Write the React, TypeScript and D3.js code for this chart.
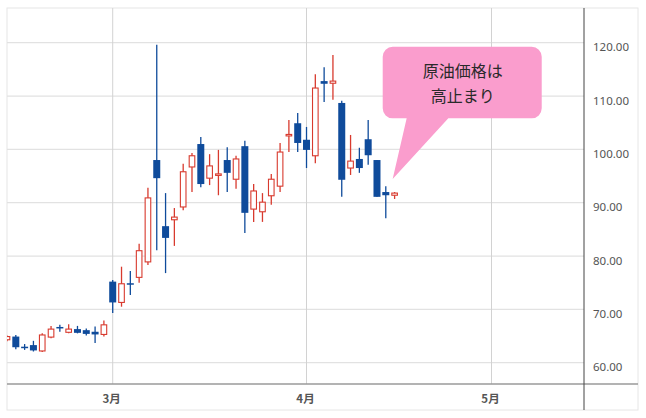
import React, { useEffect, useRef } from 'react';
import * as d3 from 'd3';

// daily candles, index -1 .. 43 (index 11 = first trading day of March)
const firstIndex = -1;
const opens = [
  64.3, 64.9, 63.0, 63.3, 62.2, 64.8, 66.7, 65.7, 66.3, 66.1, 65.8, 65.3,
  75.2, 71.3, 74.9, 76.0, 78.9, 98.0, 85.6, 86.8, 89.2, 96.7, 101.0, 94.6,
  95.2, 98.0, 94.4, 100.6, 88.8, 88.3, 91.3, 93.1, 102.6, 104.9, 101.8, 98.8,
  112.8, 112.4, 108.7, 96.5, 98.2, 101.9, 98.0, 92.0, 91.4,
];
const highs = [
  65.1, 65.2, 63.5, 64.1, 65.5, 66.9, 67.1, 67.2, 66.9, 66.4, 66.8, 67.9,
  75.5, 78.0, 77.2, 82.3, 92.8, 119.6, 91.8, 89.0, 97.3, 99.3, 102.3, 99.1,
  99.9, 100.4, 98.8, 101.6, 93.5, 91.8, 95.4, 101.2, 105.5, 106.8, 104.2, 114.1,
  115.4, 117.7, 109.1, 102.7, 100.3, 105.5, 98.0, 93.1, 92.0,
];
const lows = [
  64.0, 62.5, 62.4, 62.1, 62.0, 64.6, 65.8, 65.5, 65.5, 65.1, 63.7, 64.9,
  69.3, 70.5, 72.7, 75.0, 78.3, 81.1, 76.8, 81.9, 88.6, 92.0, 92.9, 93.3,
  91.4, 92.0, 92.6, 84.3, 86.4, 86.4, 89.6, 92.0, 99.5, 99.5, 96.5, 97.4,
  108.9, 109.3, 91.1, 95.2, 95.6, 97.1, 91.1, 87.1, 90.7,
];
const closes = [
  64.9, 62.9, 62.9, 62.3, 65.2, 66.3, 66.5, 66.3, 65.6, 65.4, 65.3, 67.1,
  71.3, 74.8, 74.8, 81.0, 90.9, 94.6, 83.4, 87.3, 95.8, 98.8, 93.5, 96.9,
  95.4, 95.6, 98.2, 88.1, 92.2, 90.1, 94.4, 99.5, 102.8, 101.2, 99.9, 111.5,
  112.3, 112.8, 94.3, 97.8, 96.5, 98.9, 91.1, 91.4, 91.8,
];

const monthTickIndex = [11, 33, 54];
const monthLabels = ['3月', '4月', '5月'];
const priceTicks = [60, 70, 80, 90, 100, 110, 120];
const calloutLines = ['原油価格は', '高止まり'];

const W = 646;
const H = 418;
const left = 7;
const right = 584;
const top = 8;
const bottom = 384;
const frameRight = 638;
const frameBottom = 410;

const UP = '#d83a2e';
const DOWN = '#0f4b9b';

export default function App() {
  const svgRef = useRef<SVGSVGElement>(null);

  useEffect(() => {
    if (!svgRef.current) return;
    const svg = d3.select(svgRef.current);
    svg.selectAll('*').remove();

    const x = d3.scaleLinear().domain([-1, 64.5]).range([left, right]);
    const y = d3.scaleLinear().domain([60, 120]).range([362.7, 42.7]);

    const candles = opens.map((o, k) => ({
      i: firstIndex + k,
      o,
      h: highs[k],
      l: lows[k],
      c: closes[k],
    }));

    // panel frame
    svg.append('rect')
      .attr('x', left).attr('y', top)
      .attr('width', frameRight - left).attr('height', frameBottom - top)
      .attr('fill', '#fff')
      .attr('stroke', '#e6e6e6');

    svg.append('defs').append('clipPath').attr('id', 'plot')
      .append('rect')
      .attr('x', left).attr('y', top)
      .attr('width', right - left).attr('height', bottom - top);

    // gridlines
    svg.append('g').selectAll('line').data(priceTicks).join('line')
      .attr('x1', left).attr('x2', right)
      .attr('y1', d => y(d)).attr('y2', d => y(d))
      .attr('stroke', '#e2e2e2').attr('stroke-width', 1.2);

    svg.append('g').selectAll('line').data(monthTickIndex).join('line')
      .attr('x1', d => x(d)).attr('x2', d => x(d))
      .attr('y1', top).attr('y2', bottom)
      .attr('stroke', '#d2d2d2').attr('stroke-width', 1);

    // candles
    const g = svg.append('g').attr('clip-path', 'url(#plot)');
    g.selectAll('line.wick').data(candles).join('line')
      .attr('class', 'wick')
      .attr('x1', d => x(d.i)).attr('x2', d => x(d.i))
      .attr('y1', d => y(d.h)).attr('y2', d => y(d.l))
      .attr('stroke', d => (d.c >= d.o ? UP : DOWN))
      .attr('stroke-width', 1.3);

    g.selectAll('rect.body').data(candles).join('rect')
      .attr('class', 'body')
      .each(function (d) {
        const up = d.c >= d.o;
        const y0 = y(Math.max(d.o, d.c));
        const hgt = Math.max(1.5, y(Math.min(d.o, d.c)) - y0);
        const w = up ? 5.6 : 7;
        d3.select(this)
          .attr('x', x(d.i) - w / 2)
          .attr('y', up ? y0 : y0)
          .attr('width', w)
          .attr('height', hgt)
          .attr('fill', up ? '#fff' : DOWN)
          .attr('stroke', up ? UP : 'none')
          .attr('stroke-width', up ? 1.1 : 0);
      });

    // axes lines
    svg.append('line')
      .attr('x1', left).attr('x2', frameRight)
      .attr('y1', bottom).attr('y2', bottom)
      .attr('stroke', '#9a9a9a').attr('stroke-width', 1.6);
    svg.append('line')
      .attr('x1', right).attr('x2', right)
      .attr('y1', top).attr('y2', frameBottom)
      .attr('stroke', '#444').attr('stroke-width', 1);

    // price labels
    svg.append('g').selectAll('text').data(priceTicks).join('text')
      .attr('x', 593)
      .attr('y', d => y(d) + 4)
      .attr('dominant-baseline', 'central')
      .attr('fill', '#555')
      .attr('font-size', 11.5)
      .attr('font-family', 'Noto Sans, sans-serif')
      .text(d => d3.format('.2f')(d));

    // month labels
    svg.append('g').selectAll('text').data(monthTickIndex).join('text')
      .attr('x', d => x(d) - 1)
      .attr('y', 397.5)
      .attr('text-anchor', 'middle')
      .attr('dominant-baseline', 'central')
      .attr('fill', '#555')
      .attr('font-size', 11.5)
      .attr('font-weight', 'bold')
      .attr('font-family', 'Noto Sans CJK JP, sans-serif')
      .text((d, k) => monthLabels[k]);

    // callout bubble
    const bx0 = x(41.65), bx1 = x(59.7);
    const by0 = y(119.25), by1 = y(105.82);
    const t0 = x(44.37), t1 = x(49.1);
    const tipX = x(42.78), tipY = y(94.44);
    const r = 10;
    const p = d3.path();
    p.moveTo(bx0 + r, by0);
    p.lineTo(bx1 - r, by0);
    p.arcTo(bx1, by0, bx1, by0 + r, r);
    p.lineTo(bx1, by1 - r);
    p.arcTo(bx1, by1, bx1 - r, by1, r);
    p.lineTo(t1, by1);
    p.lineTo(tipX, tipY);
    p.lineTo(t0, by1);
    p.lineTo(bx0 + r, by1);
    p.arcTo(bx0, by1, bx0, by1 - r, r);
    p.lineTo(bx0, by0 + r);
    p.arcTo(bx0, by0, bx0 + r, by0, r);
    p.closePath();
    svg.append('path').attr('d', p.toString()).attr('fill', '#fa9dcd');

    const cx = (bx0 + bx1) / 2 + 0.5;
    const cy = (by0 + by1) / 2;
    svg.append('g').selectAll('text').data(calloutLines).join('text')
      .attr('x', cx)
      .attr('y', (d, k) => cy + (k - 0.5) * 25)
      .attr('text-anchor', 'middle')
      .attr('dominant-baseline', 'central')
      .attr('fill', '#2a2a2a')
      .attr('font-size', 16)
      .attr('font-family', 'Noto Sans CJK JP, sans-serif')
      .text(d => d);
  }, []);

  return (
    <div style={{ position: 'fixed', left: 0, top: 0, width: W, height: H, background: '#fff' }}>
      <svg ref={svgRef} width={W} height={H} style={{ display: 'block' }} />
    </div>
  );
}
